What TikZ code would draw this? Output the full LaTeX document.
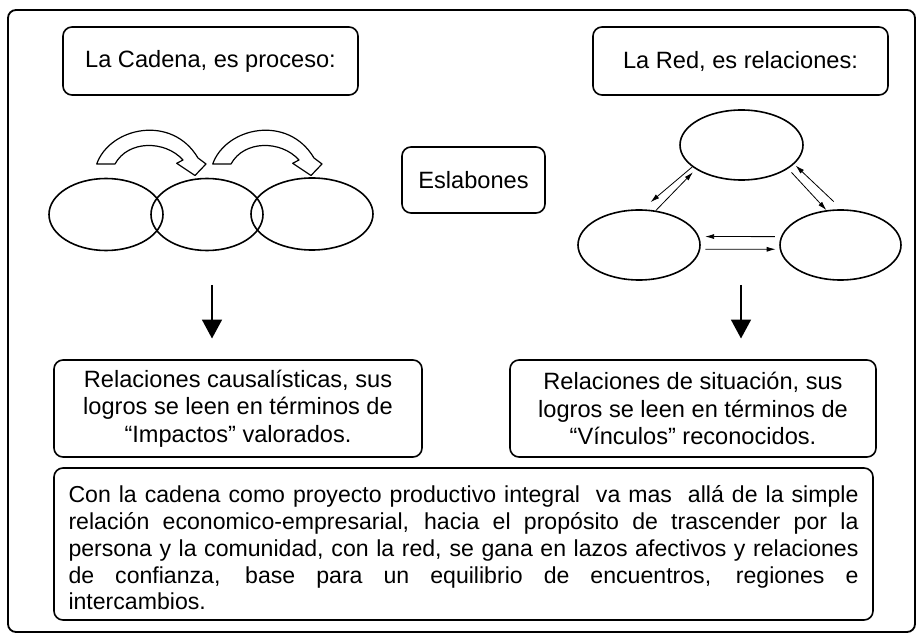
\documentclass[tikz,border=0pt]{standalone}
\usepackage{fontspec}
\setmainfont{Liberation Sans}
\usetikzlibrary{shapes.geometric,arrows.meta,calc}
\newcommand{\jline}[1]{\makebox[790pt][s]{\spaceskip=.278em plus 1fil minus .12em\relax #1}}
\begin{document}
\begin{tikzpicture}[x=1pt,y=-1pt,
  box/.style={draw, line width=1.6pt, rounded corners=9pt, inner sep=0pt, align=center, font=\fontsize{23.6}{27.5}\selectfont},
  ell/.style={draw, ellipse, line width=1.6pt, inner sep=0pt, minimum height=70pt},
  netarrow/.style={line width=0.8pt, -{Latex[length=9pt,width=5pt]}},
  downarrow/.style={line width=1.8pt, -{Triangle[length=19pt,width=20pt]}},
  blockarrow/.style={draw, fill=white, line width=1.2pt, line join=round}]
\useasboundingbox (0,0) rectangle (918,636);
% outer frame
\draw[line width=1.8pt, rounded corners=8pt] (8,10) rectangle (915,632);
% headers
\node[box, minimum width=295pt, minimum height=68pt] (cad) at (210.5,61) {La Cadena, es proceso:};
\node[box, minimum width=295pt, minimum height=68pt] (red) at (740.5,61) {La Red, es relaciones:};
\node[box, minimum width=143pt, minimum height=66pt] (esl) at (473.5,180) {Eslabones};
% chain
\node[ell, minimum width=114pt, minimum height=72pt] (e1) at (106,214.5) {};
\node[ell, minimum width=112pt, minimum height=72pt] (e2) at (207,214.5) {};
\node[ell, minimum width=122pt, minimum height=72pt] (e3) at (312,214) {};
\foreach \s in {0,116}{
  \draw[blockarrow, xshift=\s pt] (96.7,164) .. controls (110,127) and (172,114) .. (198,158)
    -- (206,164) -- (195,175.5) -- (176.7,163.3) -- (183,160)
    .. controls (165,140) and (128,140) .. (115,164) -- cycle;
}
% network
\node[ell, minimum width=123pt] (nt) at (741.5,145) {};
\node[ell, minimum width=122pt] (nl) at (639,245) {};
\node[ell, minimum width=121pt] (nr) at (840.5,245) {};
\draw[netarrow, shorten >=11pt] (nt.204) -- (nl.85);
\draw[netarrow, shorten >=4pt] (nl.64) -- (nt.208);
\draw[netarrow, shorten <=5pt] (nt.333) -- (nr.112);
\draw[netarrow, shorten <=11pt, shorten >=2pt] (nr.88) -- (nt.340);
\draw[netarrow, shorten <=6pt, shorten >=6pt] (nr.172) -- (nl.8);
\draw[netarrow, shorten <=5pt, shorten >=4pt] (nl.356) -- (nr.184);
% down arrows
\coordinate (d1top) at (212,285);
\coordinate (d1tip) at (212,338.5);
\coordinate (d2top) at (741,285);
\coordinate (d2tip) at (741,338.5);
\draw[downarrow] (d1top) -- (d1tip);
\draw[downarrow] (d2top) -- (d2tip);
% middle boxes
\node[box, minimum width=368pt, minimum height=97pt] (rl) at (238,408.5)
  {Relaciones causalísticas, sus\\logros se leen en términos de\\“Impactos” valorados.};
\node[box, minimum width=366pt, minimum height=97pt] (rr) at (693,408.5)
  {Relaciones de situación, sus\\logros se leen en términos de\\“Vínculos” reconocidos.};
% bottom box
\node[box, minimum width=819pt, minimum height=152pt, text width=790pt, align=left,
  font=\fontsize{23.1}{26.8}\selectfont] (bot) at (463.5,544)
  {\rule{0pt}{25pt}\jline{Con la cadena como proyecto productivo integral\ \ va mas\ \ allá de la simple}\\
   \jline{relación economico-empresarial, hacia el propósito de trascender por la}\\
   \jline{persona y la comunidad, con la red, se gana en lazos afectivos y relaciones}\\
   \jline{de confianza, base para un equilibrio de encuentros, regiones e}\\
   intercambios.};
\end{tikzpicture}
\end{document}
